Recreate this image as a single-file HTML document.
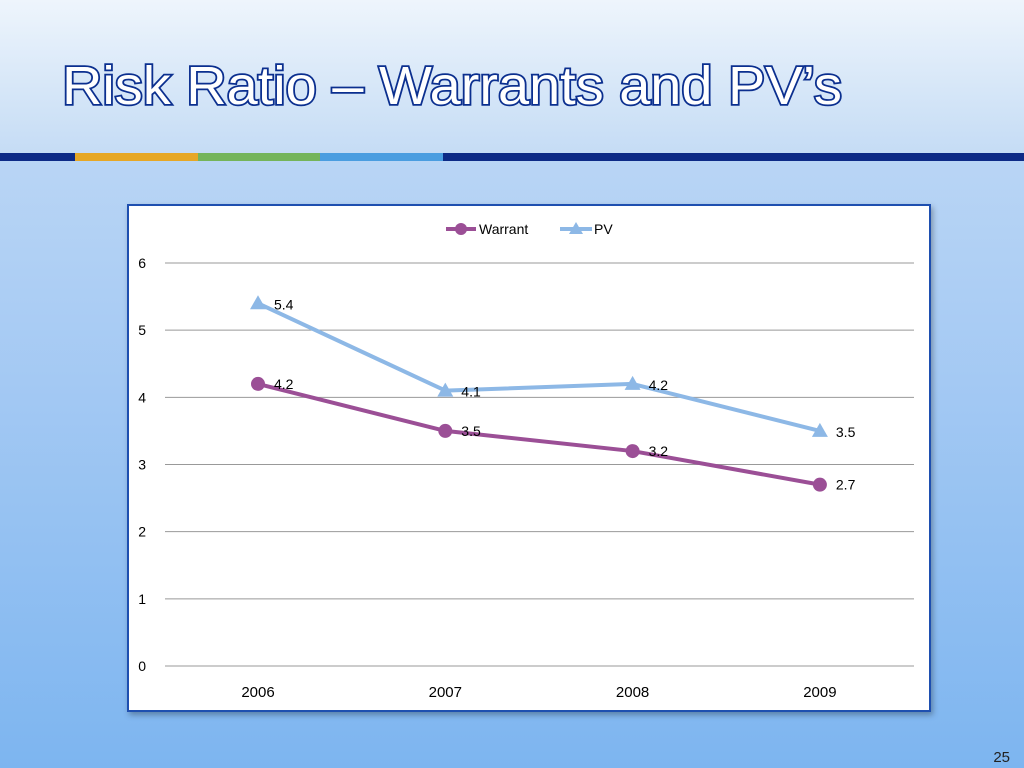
<!DOCTYPE html>
<html><head><meta charset="utf-8"><style>
body{margin:0;width:1024px;height:768px;overflow:hidden;font-family:"Liberation Sans",sans-serif;}
#bg{position:absolute;left:0;top:0;width:1024px;height:768px;background:linear-gradient(#c9def6 0px,#b9d5f5 160px,#a2c8f3 400px,#7db5f0 768px);}
#hdr{position:absolute;left:0;top:0;width:1024px;height:153px;background:linear-gradient(#eef5fc,#c5dcf5);}
</style></head><body>
<div id="bg"></div>
<div id="hdr"></div>
<svg width="1024" height="768" style="position:absolute;left:0;top:0">
<text x="62" y="104" font-size="54" textLength="780" lengthAdjust="spacingAndGlyphs" fill="#fff" stroke="#0b2f8f" stroke-width="3.5" paint-order="stroke" font-family="Liberation Sans, sans-serif">Risk Ratio – Warrants and PV’s</text>
<rect x="0" y="153" width="1024" height="8" fill="#0d2a86"/>
<rect x="75" y="153" width="123" height="8" fill="#e6a726"/>
<rect x="198" y="153" width="122" height="8" fill="#74b45a"/>
<rect x="320" y="153" width="123" height="8" fill="#4a9de0"/>
<rect x="128" y="205" width="802" height="506" fill="#fff" stroke="#1e4fb0" stroke-width="2" style="filter:drop-shadow(2px 3px 3px rgba(0,0,0,0.3))"/>
<g id="chart"></g>
<text x="1010" y="762" font-size="15" text-anchor="end" fill="#222">25</text>
</svg>
<script>
const categories=["2006","2007","2008","2009"];
const warrant=[4.2,3.5,3.2,2.7];
const pv=[5.4,4.1,4.2,3.5];
const yTicks=[0,1,2,3,4,5,6];
const NS="http://www.w3.org/2000/svg";
const g=document.getElementById('chart');
function y(v){return 666-v*(403/6);}
function x(i){return 258+i*187.3;}
function mk(t,a){const e=document.createElementNS(NS,t);for(const k in a)e.setAttribute(k,a[k]);g.appendChild(e);return e;}
yTicks.forEach(t=>{
 const l=mk('line',{x1:165,x2:914,y1:y(t),y2:y(t),stroke:'#999','stroke-width':1});
 
 
 const tx=mk('text',{x:146,y:y(t)+5,'font-size':14,'text-anchor':'end',fill:'#000'});tx.textContent=t;
 
 
});
categories.forEach((c,i)=>{
 const tx=mk('text',{x:x(i),y:697,'font-size':15,'text-anchor':'middle',fill:'#000'});tx.textContent=c;
 
 
});
function series(vals,color,marker,name,lblOff){
 const p=mk('polyline',{points:vals.map((v,i)=>x(i)+','+y(v)).join(' '),fill:'none',stroke:color,'stroke-width':4,'stroke-linejoin':'round'});
 
 
 vals.forEach((v,i)=>{
  let m;
  if(marker==='c'){m=mk('circle',{cx:x(i),cy:y(v),r:7,fill:color});}
  else{const cx=x(i),cy=y(v);m=mk('polygon',{points:`${cx},${cy-8} ${cx+8},${cy+6} ${cx-8},${cy+6}`,fill:color});}
  
  
  const t=mk('text',{x:x(i)+16,y:y(v)+lblOff,'font-size':14,fill:'#000'});t.textContent=v.toFixed(1);
  
  
 });
}
series(warrant,'#9b4f96','c','warrant',5);
series(pv,'#8db8e6','t','pv',6);
const ll=mk('line',{x1:446,x2:476,y1:229,y2:229,stroke:'#9b4f96','stroke-width':4});


const lc=mk('circle',{cx:461,cy:229,r:6,fill:'#9b4f96'});


const lt=mk('text',{x:479,y:234,'font-size':14,fill:'#000'});lt.textContent='Warrant';


const pl=mk('line',{x1:560,x2:592,y1:229,y2:229,stroke:'#8db8e6','stroke-width':4});


const pm=mk('polygon',{points:'576,222 583,234 569,234',fill:'#8db8e6'});


const pt=mk('text',{x:594,y:234,'font-size':14,fill:'#000'});pt.textContent='PV';


</script>
</body></html>
